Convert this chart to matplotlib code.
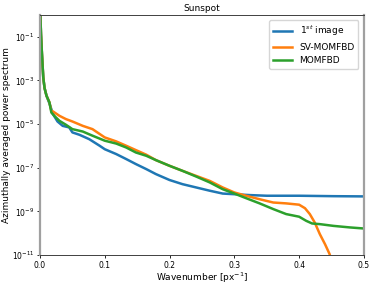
import numpy as np
import matplotlib.pyplot as plt

# wavenumber [px^-1] and log10 of the power
k_green = [0.0, 0.0015, 0.003, 0.005, 0.007, 0.010, 0.0145, 0.0175, 0.022, 0.030, 0.040, 0.050,
           0.066, 0.081, 0.100, 0.1175, 0.133, 0.148, 0.164, 0.179, 0.200, 0.220, 0.241, 0.262,
           0.282, 0.300, 0.318, 0.339, 0.360, 0.380, 0.400, 0.411, 0.420, 0.432, 0.453, 0.478, 0.500]
lg_green = [0.5, -0.88, -1.8, -2.86, -3.35, -3.7, -4.0, -4.47, -4.62, -4.85, -5.03, -5.23,
            -5.34, -5.53, -5.76, -5.89, -6.07, -6.3, -6.45, -6.65, -6.91, -7.14, -7.4, -7.67,
            -7.98, -8.18, -8.39, -8.63, -8.89, -9.12, -9.24, -9.43, -9.55, -9.58, -9.66, -9.73, -9.78]

k_orange = [0.0, 0.0015, 0.003, 0.005, 0.007, 0.010, 0.0145, 0.0175, 0.020, 0.030, 0.040, 0.050,
            0.066, 0.081, 0.100, 0.1175, 0.133, 0.148, 0.164, 0.179, 0.200, 0.220, 0.241, 0.262,
            0.282, 0.300, 0.318, 0.339, 0.360, 0.380, 0.400, 0.409, 0.4165, 0.424, 0.432, 0.440,
            0.447, 0.4515]
lg_orange = [0.5, -0.88, -1.8, -2.86, -3.35, -3.7, -4.0, -4.4, -4.42, -4.62, -4.77, -4.88,
             -5.08, -5.23, -5.61, -5.79, -5.99, -6.19, -6.4, -6.65, -6.91, -7.14, -7.37, -7.6,
             -7.9, -8.13, -8.28, -8.44, -8.59, -8.63, -8.69, -8.85, -9.12, -9.5, -10.04, -10.5,
             -10.95, -11.4]

k_blue = [0.0, 0.0015, 0.003, 0.005, 0.007, 0.010, 0.0145, 0.020, 0.027, 0.035, 0.045, 0.050,
          0.061, 0.076, 0.092, 0.100, 0.1175, 0.133, 0.148, 0.164, 0.179, 0.200, 0.220, 0.241,
          0.262, 0.282, 0.300, 0.324, 0.350, 0.400, 0.453, 0.500]
lg_blue = [0.5, -0.88, -1.8, -2.86, -3.35, -3.7, -4.05, -4.54, -4.88, -5.08, -5.15, -5.38,
           -5.49, -5.69, -5.99, -6.15, -6.37, -6.6, -6.83, -7.06, -7.29, -7.56, -7.75, -7.9,
           -8.05, -8.18, -8.21, -8.25, -8.28, -8.28, -8.3, -8.31]

plt.rcParams['font.size'] = 6.5
fig = plt.figure(figsize=(3.74, 2.87), dpi=100)
ax = fig.add_axes([0.107, 0.111, 0.866, 0.837])

ax.plot(k_blue, 10.0**np.array(lg_blue), color='#1f77b4', lw=1.8, label='1$^{st}$ image')
ax.plot(k_orange, 10.0**np.array(lg_orange), color='#ff7f0e', lw=1.8, label='SV-MOMFBD')
ax.plot(k_green, 10.0**np.array(lg_green), color='#2ca02c', lw=1.8, label='MOMFBD')

ax.set_yscale('log')
ax.set_xlim(0, 0.5)
ax.set_ylim(1e-11, 1e0)
ax.set_yticks([1e-1, 1e-3, 1e-5, 1e-7, 1e-9, 1e-11])
ax.minorticks_off()
ax.tick_params(labelsize=5.5, length=2, width=0.6, pad=2)
ax.set_xlabel('Wavenumber [px$^{-1}$]', fontsize=6.5, labelpad=1)
ax.set_ylabel('Azimuthally averaged power spectrum', fontsize=6.5, labelpad=1)
ax.set_title('Sunspot', fontsize=6.5, pad=3)
for s in ['left', 'right']:
    ax.spines[s].set_color('#a0a0a0')
    ax.spines[s].set_linewidth(1.6)
for s in ['top', 'bottom']:
    ax.spines[s].set_color('#404040')
    ax.spines[s].set_linewidth(0.7)
ax.legend(loc='upper right', fontsize=6.5, handlelength=2.2, borderaxespad=0.6)

fig.savefig('out.png')
